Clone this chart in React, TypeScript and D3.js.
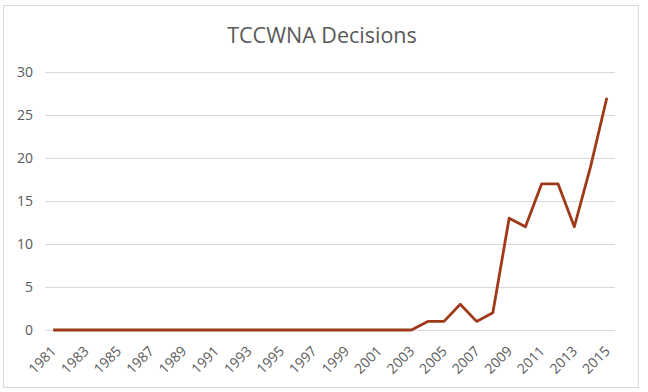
import React, { useEffect } from 'react';
import * as d3 from 'd3';

const years: number[] = d3.range(1981, 2016);
const decisions: number[] = [
  0, 0, 0, 0, 0, 0, 0, 0, 0, 0, // 1981-1990
  0, 0, 0, 0, 0, 0, 0, 0, 0, 0, // 1991-2000
  0, 0, 0, 1, 1, 3, 1, 2, 13, 12, // 2001-2010
  17, 17, 12, 19, 27, // 2011-2015
];
const yTicks: number[] = [0, 5, 10, 15, 20, 25, 30];
const xTickLabels: number[] = years.filter((_, i) => i % 2 === 0);

const width = 648;
const height = 392;
const margin = { top: 72, right: 33, bottom: 62, left: 45 };
const font = "'Open Sans', sans-serif";
const textColor = '#595959';

const App: React.FC = () => {
  useEffect(() => {
    document.body.style.margin = '0';
  }, []);

  const x = d3.scalePoint<number>()
    .domain(years)
    .range([margin.left, width - margin.right])
    .padding(0.5);

  const y = d3.scaleLinear()
    .domain([0, 30])
    .range([height - margin.bottom, margin.top]);

  const line = d3.line<number>()
    .x((_, i) => x(years[i]) as number)
    .y(d => y(d));

  return (
    <svg width={width} height={height} style={{ display: 'block' }}>
      <rect x={0} y={0} width={width} height={height} fill="#fff" />
      <rect x={3.5} y={5.5} width={635} height={382} fill="none" stroke="#d9d9d9" />
      <text
        x={322}
        y={43}
        textAnchor="middle"
        fontFamily={font}
        fontSize={21.5}
        fill={textColor}
      >
        TCCWNA Decisions
      </text>
      {yTicks.map(t => (
        <g key={t}>
          <line
            x1={margin.left}
            x2={width - margin.right}
            y1={Math.round(y(t)) + 0.5}
            y2={Math.round(y(t)) + 0.5}
            stroke="#d9d9d9"
          />
          <text
            x={33}
            y={y(t)}
            dy="0.35em"
            textAnchor="end"
            fontFamily={font}
            fontSize={14}
            fill={textColor}
          >
            {t}
          </text>
        </g>
      ))}
      {xTickLabels.map(yr => (
        <text
          key={yr}
          transform={`translate(${(x(yr) as number) + 4},${height - margin.bottom + 22}) rotate(-45)`}
          textAnchor="end"
          fontFamily={font}
          fontSize={14}
          fill={textColor}
        >
          {yr}
        </text>
      ))}
      <path
        d={line(decisions) ?? ''}
        fill="none"
        stroke="#9e3a1a"
        strokeWidth={2.8}
        strokeLinejoin="round"
      />
    </svg>
  );
};

export default App;
